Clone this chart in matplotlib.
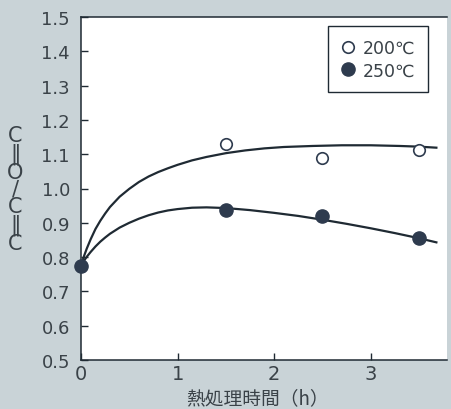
import matplotlib

matplotlib.use("Agg")
import matplotlib.pyplot as plt
from matplotlib.lines import Line2D

BG = "#c9d3d7"
INK = "#1f2a33"
TXT = "#3a4248"
NAVY = "#2e3b4e"

# measured points
t_pts = [0, 1.5, 2.5, 3.5]
y_200 = [0.775, 1.13, 1.088, 1.112]
y_250 = [0.775, 0.938, 0.92, 0.857]

# hand-drawn trend curves
t_c200 = [0, 0.03, 0.06, 0.1, 0.15, 0.2, 0.25, 0.3, 0.4, 0.5, 0.6, 0.7, 0.8,
          0.9, 1.0, 1.15, 1.3, 1.5, 1.7, 1.9, 2.1, 2.4, 2.7, 3.0, 3.3, 3.5, 3.68]
v_c200 = [0.775, 0.802, 0.825, 0.852, 0.882, 0.906, 0.927, 0.946, 0.976,
          0.999, 1.019, 1.035, 1.048, 1.059, 1.069, 1.082, 1.092, 1.103,
          1.111, 1.117, 1.121, 1.124, 1.126, 1.126, 1.124, 1.122, 1.119]
t_c250 = [0, 0.03, 0.06, 0.1, 0.15, 0.2, 0.25, 0.3, 0.4, 0.5, 0.6, 0.7, 0.8,
          0.9, 1.0, 1.15, 1.3, 1.5, 1.75, 2.0, 2.25, 2.5, 2.75, 3.0, 3.25,
          3.5, 3.68]
v_c250 = [0.775, 0.789, 0.801, 0.815, 0.831, 0.845, 0.857, 0.868, 0.886,
          0.900, 0.912, 0.922, 0.930, 0.936, 0.940, 0.944, 0.945, 0.943,
          0.937, 0.929, 0.920, 0.909, 0.897, 0.884, 0.870, 0.855, 0.843]

x_ticks = [0, 1, 2, 3]
y_ticks = [0.5, 0.6, 0.7, 0.8, 0.9, 1.0, 1.1, 1.2, 1.3, 1.4, 1.5]
legend_labels = ["200℃", "250℃"]
xlabel = "熱処理時間（h）"
ylabel = "C\n‖\nO\n/\nC\n‖\nC"  # stacked vertically like the original

fig = plt.figure(figsize=(4.51, 4.10), dpi=100)
fig.patch.set_facecolor(BG)
ax = fig.add_axes([81 / 451, 49 / 410, 366 / 451, 343 / 410])
ax.set_facecolor("white")

ax.plot(t_c200, v_c200, color=INK, lw=1.6, zorder=2)
ax.plot(t_c250, v_c250, color=INK, lw=1.6, zorder=2)
ax.plot(t_pts[1:], y_200[1:], "o", ms=8.3, mfc="white", mec=NAVY, mew=1.2,
        zorder=3, clip_on=False)
ax.plot(t_pts, y_250, "o", ms=9.5, mfc=NAVY, mec=NAVY, zorder=4, clip_on=False)

ax.set_xlim(0, 3.79)
ax.set_ylim(0.5, 1.5)
ax.set_xticks(x_ticks)
ax.set_xticklabels([str(v) for v in x_ticks])
ax.set_yticks(y_ticks)
ax.set_yticklabels([f"{v:.1f}" for v in y_ticks])
ax.tick_params(axis="both", direction="in", length=5, width=1, color=INK,
               labelcolor=TXT)
ax.tick_params(axis="y", labelsize=13, pad=8)
ax.tick_params(axis="x", labelsize=14, pad=3)
for side in ("left", "bottom", "top"):
    ax.spines[side].set_color(INK)
    ax.spines[side].set_linewidth(1.1)
ax.spines["right"].set_visible(False)

handles = [
    Line2D([], [], ls="none", marker="o", ms=8.3, mfc="white", mec=NAVY, mew=1.2),
    Line2D([], [], ls="none", marker="o", ms=9.5, mfc=NAVY, mec=NAVY),
]
leg = ax.legend(handles, legend_labels, loc="upper right",
                bbox_to_anchor=(428 / 451, 1 - 27 / 410),
                bbox_transform=fig.transFigure, fancybox=False, framealpha=1,
                edgecolor=INK, prop={"family": ["DejaVu Sans", "Noto Sans CJK JP"],
                                     "size": 12.5},
                handlelength=0.8, handletextpad=0.45, borderpad=0.75,
                labelspacing=0.25, borderaxespad=0)
leg.get_frame().set_linewidth(1.0)
for t in leg.get_texts():
    t.set_color(TXT)

fig.text(258 / 451, 1 - 399 / 410, xlabel, ha="center", va="center",
         fontsize=13.5, color=TXT, family=["Noto Sans CJK JP", "DejaVu Sans"])

fig.text(15.5 / 451, 1 - 190 / 410, ylabel, ha="center", va="center",
         multialignment="center", fontsize=15, linespacing=0.84, color=TXT,
         family=["DejaVu Sans", "Noto Sans CJK JP"])

fig.savefig("out.png", dpi=100, facecolor=BG)
